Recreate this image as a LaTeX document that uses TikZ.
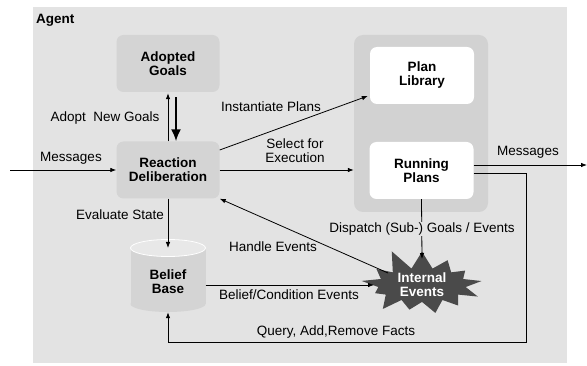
\documentclass[tikz,border=0pt]{standalone}
\usepackage{fontspec}
\setmainfont{Liberation Sans}
\usetikzlibrary{shapes.symbols,arrows.meta}
\definecolor{bgc}{HTML}{E3E3E3}
\definecolor{boxc}{HTML}{D4D4D4}
\definecolor{contc}{HTML}{D2D2D2}
\definecolor{topc}{HTML}{E8E8E8}
\definecolor{starc}{HTML}{4A4A4A}
\tikzset{
  lbl/.style={font=\fontsize{13.5}{14}\selectfont, inner sep=1pt, align=center},
  bl/.style={font=\fontsize{13.5}{14}\selectfont\bfseries, align=center, inner sep=0pt},
  gbox/.style={bl, fill=boxc, rounded corners=7pt, minimum width=103pt, minimum height=57pt},
  wbox/.style={bl, fill=white, rounded corners=7pt, minimum width=104pt, minimum height=57pt},
  cont/.style={fill=contc, rounded corners=9pt, minimum width=134pt, minimum height=177pt, inner sep=0pt},
  arr/.style={line width=0.8pt, -{Latex[length=6pt,width=4.5pt]}},
  bigarr/.style={line width=2pt, -{Latex[length=12pt,width=10pt]}},
  burst/.style={bl, text=white, fill=starc, shape=starburst, starburst points=13,
    starburst point height=22pt, random starburst=11, minimum width=132pt, minimum height=76pt}
}
\begin{document}
\begin{tikzpicture}[x=1pt,y=-1pt]
\useasboundingbox (0,0) rectangle (587,366);
\fill[bgc] (33,7) rectangle (567,363);
\node[bl, anchor=west] (agent) at (36,20) {Agent};

\node[gbox] (goals) at (168,63.5) {Adopted\\Goals};
\node[gbox] (react) at (168,170) {Reaction\\Deliberation};
\node[cont] (cont) at (421,123.5) {};
\node[wbox] (lib) at (422,75.5) {Plan\\Library};
\node[wbox] (run) at (421.5,170.5) {Running\\Plans};

% belief base cylinder
\fill[boxc] (130.5,248) rectangle (205.5,304);
\fill[boxc] (168,304) ellipse [x radius=37.5pt, y radius=8pt];
\filldraw[fill=topc, draw=white, line width=0.8pt] (168,248) ellipse [x radius=37.5pt, y radius=8.5pt];
\node[bl, minimum width=75pt, minimum height=60pt] (belief) at (168,282) {Belief\\Base};
\coordinate (btop) at (168,248);

\node[burst] (ie) at (422,285) {Internal\\Events};

\coordinate (min) at (10,170);
\coordinate (mout) at (587,165);
\coordinate (qc) at (526,342);
\coordinate (iew) at (374,285);
\coordinate (ien) at (422,259);
\coordinate (ieh) at (388,273);

% connectors
\draw[arr] (min) -- (react.west);
\node[lbl] (lmsg) at (71,158) {Messages};

\draw[arr] (react.north) -- ([yshift=-1pt]goals.south);
\draw[bigarr] ([xshift=8pt,yshift=-5pt]goals.south) -- ([xshift=8pt]react.north);
\node[lbl] (ladopt) at (105,118) {Adopt\ \ New Goals};

\draw[arr] ([yshift=20pt]react.east) -- ([xshift=-2pt,yshift=-20.5pt]lib.west);
\node[lbl] (linst) at (271,107) {Instantiate Plans};

\draw[arr] (react.east) -- (react.east -| cont.west);
\node[lbl] (lsel) at (295,151) {Select for\\Execution};

\draw[arr] ([yshift=5.5pt]run.east) -- (mout);
\node[lbl] (lmout) at (528,152) {Messages};

\draw[arr] ([yshift=-2.5pt]run.east) -| (qc) -| (belief.south);
\node[lbl] (lquery) at (336,332) {Query, Add,Remove Facts};

\draw[arr] (react.south) -- (btop);
\node[lbl] (leval) at (120,215) {Evaluate State};

\draw[arr] ([yshift=-3pt]belief.east) -- (iew);
\node[lbl] (lbel) at (289,295) {Belief/Condition Events};

\draw[arr] (run.south) -- (ien);
\node[lbl, fill=bgc] (ldisp) at (422,229) {Dispatch (Sub-) Goals / Events};

\draw[arr] (ieh) -- (react.south east);
\node[lbl] (lhandle) at (273,247) {Handle Events};
\end{tikzpicture}
\end{document}
